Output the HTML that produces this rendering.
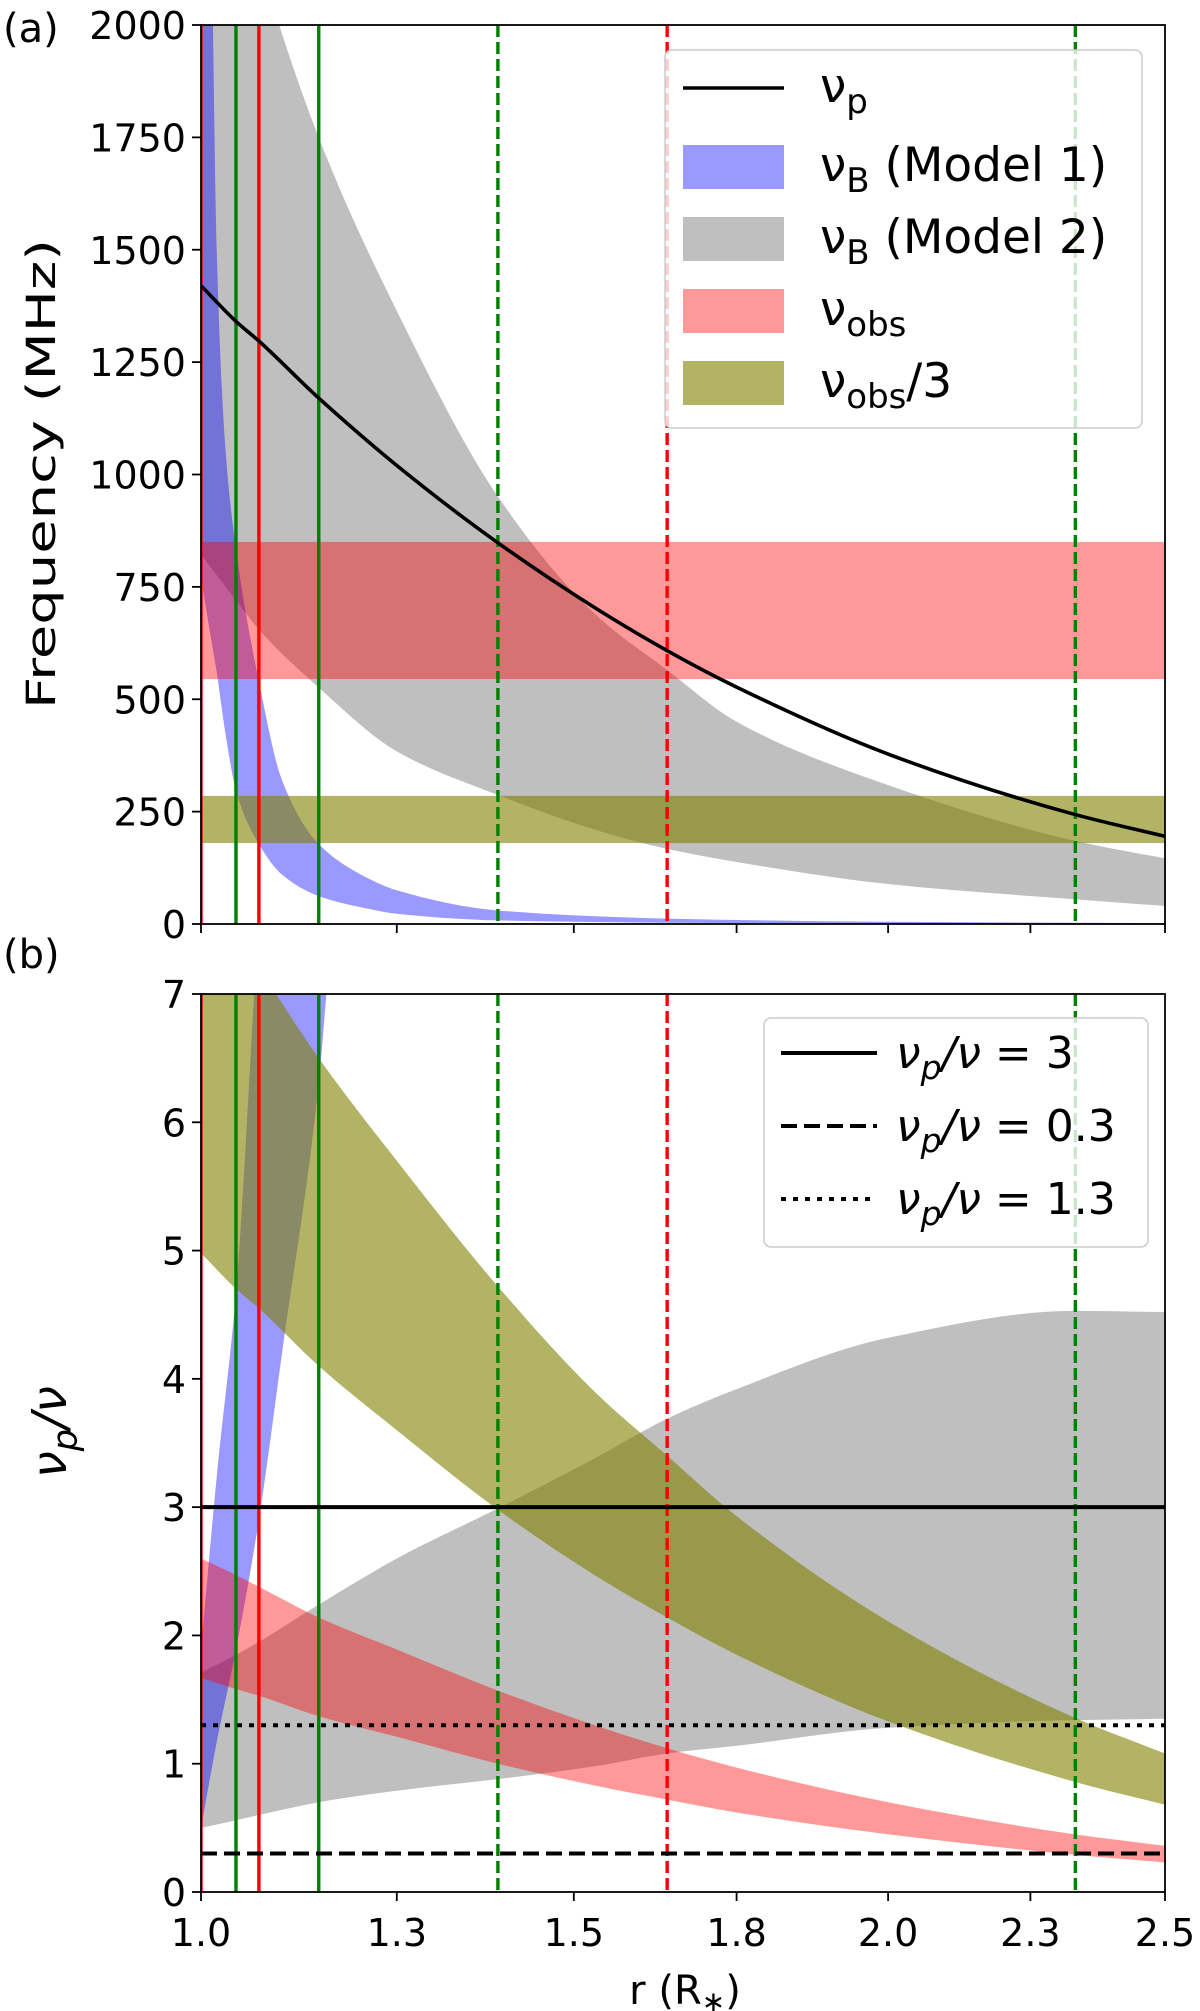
<!DOCTYPE html>
<html><head><meta charset="utf-8"><style>
html,body{margin:0;padding:0;background:#fff;}
svg{display:block;font-family:"DejaVu Sans","Liberation Sans",sans-serif;}
</style></head><body>
<svg id="fig" width="1200" height="2011" viewBox="0 0 1200 2011" xmlns="http://www.w3.org/2000/svg">
<defs>
<clipPath id="clipA"><rect x="201" y="25" width="964" height="899"/></clipPath>
<clipPath id="clipB"><rect x="201" y="994" width="964" height="898"/></clipPath>
</defs>
<g id="gA"></g>
<g id="gB"></g>
</svg>
<script>
// ---- shared data ----
const rGrid = [1, 1.043, 1.071, 1.147, 1.25, 1.39, 1.531, 1.641, 1.75, 2.0, 2.33, 2.5];
const xTickVals = [1, 1.25, 1.5, 1.75, 2.0, 2.25, 2.5];
const xTickLabels = ["1.0", "1.3", "1.5", "1.8", "2.0", "2.3", "2.5"];
const vlineSolidR = [1.0, 1.071];
const vlineSolidG = [1.0426, 1.147];
const vlineDashG = [1.39, 2.332];
const vlineDashR = [1.641];
// panel (a)
const nuP = [1420, 1340, 1297, 1170, 1020, 848, 704, 608, 527, 378, 244, 195];
const grayUpA = [2650, 2350, 2150, 1750, 1364, 951, 690, 565, 450, 309, 185, 146];
const grayLoA = [822, 719, 655, 526, 384, 287, 210, 167, 138, 89, 55, 40];
const blueR = [1, 1.008, 1.019, 1.03, 1.043, 1.071, 1.1, 1.147, 1.2, 1.25, 1.39, 1.641, 2.0, 2.5];
const blueUpA = [4000, 3000, 1500, 1050, 830, 540, 320, 178, 112, 75, 30, 12, 5, 2];
const blueLoA = [771, 680, 560, 420, 294, 178, 110, 62, 38, 23, 8, 3, 1, 0.5];
const obsBand = [545, 850];
const obs3Band = [180, 285];
const yTicksA = [0, 250, 500, 750, 1000, 1250, 1500, 1750, 2000];
// panel (b)
const redUpB = [2.6, 2.47, 2.38, 2.14, 1.89, 1.57, 1.30, 1.12, 0.97, 0.70, 0.45, 0.36];
const redLoB = [1.67, 1.58, 1.53, 1.37, 1.21, 1.0, 0.83, 0.72, 0.62, 0.45, 0.29, 0.23];
const oliveUpB = [7.9, 7.45, 7.2, 6.5, 5.7, 4.72, 3.9, 3.4, 2.93, 2.11, 1.36, 1.08];
const oliveLoB = [4.98, 4.7, 4.55, 4.1, 3.6, 2.98, 2.47, 2.14, 1.85, 1.33, 0.86, 0.68];
const grayUpB = [1.71, 1.85, 1.95, 2.24, 2.6, 2.99, 3.38, 3.69, 3.92, 4.32, 4.53, 4.52];
const grayLoB = [0.50, 0.56, 0.60, 0.70, 0.79, 0.88, 0.98, 1.08, 1.14, 1.28, 1.34, 1.35];
const blueRB = [1, 1.02, 1.043, 1.071, 1.1, 1.147, 1.16, 1.2];
const blueUpB = [1.9, 3.3, 4.7, 7.6, 10, 13, 14, 16];
const blueLoB = [0.5, 1.2, 1.9, 2.9, 4.2, 6.3, 7.2, 9];
const hLines = [3, 0.3, 1.3];
const yTicksB = [0, 1, 2, 3, 4, 5, 6, 7];

const NS = "http://www.w3.org/2000/svg";
const L = 201, R = 1165;
function X(r){ return L + (R - L) * (Math.sqrt(r) - 1) / (Math.sqrt(2.5) - 1); }
const A = {top:25, bot:924, max:2000};
const B = {top:994, bot:1892, max:7};
function Y(p, v){ return p.bot - (p.bot - p.top) * v / p.max; }
function el(tag, attrs, parent){ const e = document.createElementNS(NS, tag); for (const k in attrs) e.setAttribute(k, attrs[k]); parent.appendChild(e); return e; }
// monotone cubic (Fritsch-Butland) through points
function smooth(pts, reverse){
  const n = pts.length;
  const m = [];
  for (let i = 0; i < n; i++){
    if (i === 0) m.push((pts[1][1]-pts[0][1])/(pts[1][0]-pts[0][0]));
    else if (i === n-1) m.push((pts[n-1][1]-pts[n-2][1])/(pts[n-1][0]-pts[n-2][0]));
    else {
      const h0 = pts[i][0]-pts[i-1][0], h1 = pts[i+1][0]-pts[i][0];
      const d0 = (pts[i][1]-pts[i-1][1])/h0, d1 = (pts[i+1][1]-pts[i][1])/h1;
      if (d0*d1 <= 0) m.push(0);
      else m.push(3*(h0+h1)/((2*h1+h0)/d0 + (h1+2*h0)/d1));
    }
  }
  const segs = [];
  for (let i = 0; i < n-1; i++){
    const h = pts[i+1][0]-pts[i][0];
    segs.push([pts[i], [pts[i][0]+h/3, pts[i][1]+m[i]*h/3], [pts[i+1][0]-h/3, pts[i+1][1]-m[i+1]*h/3], pts[i+1]]);
  }
  const f = p => p[0].toFixed(1)+","+p[1].toFixed(1);
  if (!reverse){
    let d = "M" + f(pts[0]);
    segs.forEach(s => d += "C" + f(s[1]) + " " + f(s[2]) + " " + f(s[3]));
    return d;
  } else {
    let d = "L" + f(pts[n-1]);
    for (let i = segs.length-1; i >= 0; i--){ const s = segs[i]; d += "C" + f(s[2]) + " " + f(s[1]) + " " + f(s[0]); }
    return d;
  }
}
function bandPath(p, rs, up, lo){
  const a = rs.map((r,i)=>[X(r), Y(p, up[i])]);
  const b = rs.map((r,i)=>[X(r), Y(p, lo[i])]);
  return smooth(a) + smooth(b, true) + "Z";
}
function vlines(g, p){
  const specs = [[vlineSolidR,"#ff0000",null],[vlineSolidG,"#008000",null],[vlineDashG,"#008000","12,5"],[vlineDashR,"#ff0000","12,5"]];
  specs.forEach(([arr,c,dash])=>arr.forEach(r=>{
    const ln = el("line",{x1:X(r),x2:X(r),y1:p.top,y2:p.bot,stroke:c,"stroke-width":3.4},g);
    if (dash) ln.setAttribute("stroke-dasharray", dash);
    
    
  }));
}
function axes(g, p, yt, showXLabels){
  const fr = el("rect",{x:L,y:p.top,width:R-L,height:p.bot-p.top,fill:"none",stroke:"#000","stroke-width":1.8},g);
  
  
  yt.forEach(v=>{
    const y = Y(p, v);
    el("line",{x1:L-9,x2:L,y1:y,y2:y,stroke:"#000","stroke-width":1.8},g);
    const t = el("text",{x:L-15,y:y+14,"font-size":38,"text-anchor":"end",fill:"#000"},g);
    t.textContent = String(v);
    
    
  });
  xTickVals.forEach((v,i)=>{
    const x = X(v);
    el("line",{x1:x,x2:x,y1:p.bot,y2:p.bot+9,stroke:"#000","stroke-width":1.8},g);
    if (showXLabels){
      const t = el("text",{x:x,y:1946,"font-size":38,"text-anchor":"middle",fill:"#000"},g);
      t.textContent = xTickLabels[i];
      
      
    }
  });
}

// ---- panel A ----
const gA = document.getElementById("gA");
const cA = el("g",{"clip-path":"url(#clipA)"},gA);
let e;
e = el("path",{d:bandPath(A, rGrid, grayUpA, grayLoA), fill:"#808080","fill-opacity":0.5},cA);
 
e = el("path",{d:bandPath(A, blueR, blueUpA, blueLoA), fill:"#0000ff","fill-opacity":0.4},cA);
 
e = el("rect",{x:L,y:Y(A,obsBand[1]),width:R-L,height:Y(A,obsBand[0])-Y(A,obsBand[1]),fill:"#ff0000","fill-opacity":0.4},cA);
 
e = el("rect",{x:L,y:Y(A,obs3Band[1]),width:R-L,height:Y(A,obs3Band[0])-Y(A,obs3Band[1]),fill:"#808000","fill-opacity":0.6},cA);
 
vlines(cA, A);
e = el("path",{d:smooth(rGrid.map((r,i)=>[X(r),Y(A,nuP[i])])),fill:"none",stroke:"#000","stroke-width":3.6},cA);
 
axes(gA, A, yTicksA, false);
e = el("text",{x:0,y:0,"font-size":40,"text-anchor":"middle",textLength:470,lengthAdjust:"spacingAndGlyphs",transform:"translate(55,474) rotate(-90)"},gA);
e.textContent = "Frequency (MHz)";
 
e = el("text",{x:3,y:42,"font-size":40},gA); e.textContent = "(a)";
 

// legend A
const lgA = el("g",{},gA);
 
el("rect",{x:665,y:50,width:477,height:378,rx:7,fill:"#fff","fill-opacity":0.8,stroke:"#ccc","stroke-width":1.5},lgA);
const legA = [["line","#000",1,"ν","p",""],["rect","#0000ff",0.4,"ν","B"," (Model 1)"],["rect","#808080",0.5,"ν","B"," (Model 2)"],["rect","#ff0000",0.4,"ν","obs",""],["rect","#808000",0.6,"ν","obs","/3"]];
const legAy = [88, 167, 239, 311, 383];
legA.forEach((s,i)=>{
  const y = legAy[i];
  const g = el("g",{},lgA);
   
  if (s[0]==="line") el("line",{x1:683,x2:784,y1:y,y2:y,stroke:"#000","stroke-width":3.6},g);
  else el("rect",{x:683,y:y-22,width:101,height:44,fill:s[1],"fill-opacity":s[2]},g);
  const t = el("text",{x:820,y:y+14,"font-size":47},g);
  t.innerHTML = s[3] + '<tspan font-size="34" dy="11">' + s[4] + '</tspan><tspan dy="-11">' + s[5] + '</tspan>';
});

// ---- panel B ----
const gB = document.getElementById("gB");
const cB = el("g",{"clip-path":"url(#clipB)"},gB);
e = el("path",{d:bandPath(B, rGrid, grayUpB, grayLoB), fill:"#808080","fill-opacity":0.5},cB);
 
e = el("path",{d:bandPath(B, blueRB, blueUpB, blueLoB), fill:"#0000ff","fill-opacity":0.4},cB);
 
e = el("path",{d:bandPath(B, rGrid, redUpB, redLoB), fill:"#ff0000","fill-opacity":0.4},cB);
 
e = el("path",{d:bandPath(B, rGrid, oliveUpB, oliveLoB), fill:"#808000","fill-opacity":0.6},cB);
 
vlines(cB, B);
const hStyles = [null, "16,7", "5,7"];
hLines.forEach((v,i)=>{
  const ln = el("line",{x1:L,x2:R,y1:Y(B,v),y2:Y(B,v),stroke:"#000","stroke-width":4},cB);
  if (hStyles[i]) ln.setAttribute("stroke-dasharray", hStyles[i]);
  
  
});
axes(gB, B, yTicksB, true);
e = el("text",{x:0,y:0,"font-size":48,"font-style":"italic","text-anchor":"middle",transform:"translate(66,1432) rotate(-90)"},gB);
e.innerHTML = 'ν<tspan font-size="35" dy="11">p</tspan><tspan dy="-11">/ν</tspan>';
 
e = el("text",{x:3,y:968,"font-size":40},gB); e.textContent = "(b)";
 
e = el("text",{x:685,y:2004,"font-size":40,"text-anchor":"middle"},gB);
e.innerHTML = 'r (R<tspan font-size="28" dy="7">∗</tspan><tspan dy="-7">)</tspan>';
 

const lgB = el("g",{},gB);
 
el("rect",{x:764,y:1018,width:384,height:229,rx:7,fill:"#fff","fill-opacity":0.8,stroke:"#ccc","stroke-width":1.5},lgB);
const legBy = [1053, 1126, 1199];
const legBv = ["3", "0.3", "1.3"];
legBy.forEach((y,i)=>{
  const g = el("g",{},lgB);
   
  const ln = el("line",{x1:781,x2:877,y1:y,y2:y,stroke:"#000","stroke-width":4},g);
  if (hStyles[i]) ln.setAttribute("stroke-dasharray", hStyles[i]);
  const t = el("text",{x:896,y:y+15,"font-size":44},g);
  t.innerHTML = '<tspan font-style="italic">ν</tspan><tspan font-style="italic" font-size="33" dy="11">p</tspan><tspan dy="-11" font-style="italic">/ν</tspan> = ' + legBv[i];
});
</script>
</body></html>
